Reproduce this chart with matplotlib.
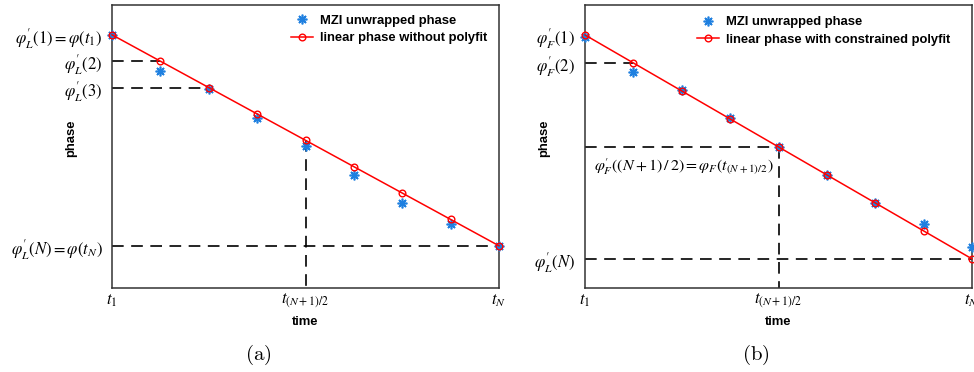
import matplotlib.pyplot as plt

plt.rcParams['mathtext.fontset'] = 'stix'
plt.rcParams['font.family'] = ['Liberation Sans', 'DejaVu Sans']

# sample index along time axis
samples = [1, 2, 3, 4, 5, 6, 7, 8, 9]

# (a) linear phase without polyfit
mzi_phase_a = [8.0, 6.63, 5.95, 4.85, 3.79, 2.69, 1.63, 0.83, 0.0]
linear_phase_a = [8, 7, 6, 5, 4, 3, 2, 1, 0]

# (b) linear phase with constrained polyfit
mzi_phase_b = [7.93, 6.68, 6.04, 5.04, 4.0, 3.0, 2.0, 1.25, 0.43]
linear_phase_b = [8, 7, 6, 5, 4, 3, 2, 1, 0]

xtick_labels = [r'$t_1$', r'$t_{(N+1)/2}$', r'$t_N$']
ytick_idx_a = [0, 1, 2, 8]
ytick_labels_a = [r"$\varphi_{L}^{\prime}(1)=\varphi(t_{1})$", r"$\varphi_{L}^{\prime}(2)$",
                  r"$\varphi_{L}^{\prime}(3)$", r"$\varphi_{L}^{\prime}(N)=\varphi(t_{N})$"]
ytick_idx_b = [0, 1, 8]
ytick_labels_b = [r"$\varphi_{F}^{\prime}(1)$", r"$\varphi_{F}^{\prime}(2)$",
                  r"$\varphi_{L}^{\prime}(N)$"]

BLUE = '#1f80e0'
RED = '#ff0000'
LEG = {'weight': 'bold', 'size': 9.4}
DASH = dict(color='black', lw=1.2, dashes=(7, 4.5), zorder=1)

fig = plt.figure(figsize=(9.74, 3.72), dpi=100)
ax_a = fig.add_axes([112/974, 84/372, 387/974, 283/372])
ax_b = fig.add_axes([585/974, 84/372, 387/974, 283/372])


def draw_panel(ax, mzi, lin, ylim, legend_label, anchor):
    ax.plot(samples, mzi, linestyle='none', marker=(8, 2, 0), markersize=7,
            markeredgewidth=1.2, color=BLUE, label='MZI unwrapped phase',
            clip_on=False, zorder=3)
    ax.plot(samples, lin, color=RED, lw=1.1, marker='o', markersize=4.8,
            markerfacecolor='none', markeredgewidth=1.0, label=legend_label,
            clip_on=False, zorder=4)
    ax.set_xlim(samples[0], samples[-1])
    ax.set_ylim(*ylim)
    mid = len(samples) // 2
    ax.set_xticks([samples[0], samples[mid], samples[-1]])
    ax.set_xticklabels(xtick_labels, fontsize=12)
    ax.tick_params(length=0)
    ax.tick_params(axis='x', pad=3)
    ax.tick_params(axis='y', pad=7)
    for s in ax.spines.values():
        s.set_linewidth(1.1)
        s.set_color('#333333')
    ax.set_xlabel('time', fontweight='bold', fontsize=9.4)
    ax.set_ylabel('phase', fontweight='bold', fontsize=9.4)
    ax.xaxis.set_label_coords(0.5, -0.099)
    ax.yaxis.set_label_coords(-0.09, 0.53)
    ax.legend(loc='upper left', bbox_to_anchor=anchor, frameon=False,
              borderpad=0, borderaxespad=0, handlelength=1.7,
              handletextpad=0.55, labelspacing=0.4, prop=LEG, numpoints=1)
    return mid


# panel (a)
mid = draw_panel(ax_a, mzi_phase_a, linear_phase_a, (-1.6, 9.13),
                 'linear phase without polyfit', (0.4625, 0.965))
ax_a.set_yticks([linear_phase_a[i] for i in ytick_idx_a])
ax_a.set_yticklabels(ytick_labels_a, fontsize=12)
for i in [1, 2]:
    ax_a.plot([samples[0], samples[i]], [linear_phase_a[i]] * 2, **DASH)
ax_a.plot([samples[0], samples[-1]], [linear_phase_a[-1]] * 2, **DASH)
ax_a.plot([samples[mid]] * 2, [linear_phase_a[mid], -1.6], **DASH)

# panel (b)
mid = draw_panel(ax_b, mzi_phase_b, linear_phase_b, (-1.04, 9.07),
                 'linear phase with constrained polyfit', (0.289, 0.96))
ax_b.set_yticks([linear_phase_b[i] for i in ytick_idx_b])
ax_b.set_yticklabels(ytick_labels_b, fontsize=12)
ax_b.plot([samples[0], samples[1]], [linear_phase_b[1]] * 2, **DASH)
ax_b.plot([samples[0], samples[mid]], [linear_phase_b[mid]] * 2, **DASH)
ax_b.plot([samples[0], samples[-1]], [linear_phase_b[-1]] * 2, **DASH)
ax_b.plot([samples[mid]] * 2, [linear_phase_b[mid], -1.04], **DASH)
ax_b.text(0.023, 0.4276,
          r"$\varphi_{F}^{\prime}((N+1)\,/\,2)=\varphi_{F}(t_{(N+1)/2})$",
          transform=ax_b.transAxes, ha='left', va='center', fontsize=11.5)

# captions
fig.text(258/974, 1 - 355/372, r'$\mathrm{(a)}$', math_fontfamily='cm',
         fontsize=15, ha='center', va='center')
fig.text(756/974, 1 - 355/372, r'$\mathrm{(b)}$', math_fontfamily='cm',
         fontsize=15, ha='center', va='center')

fig.savefig('out.png', dpi=100)
